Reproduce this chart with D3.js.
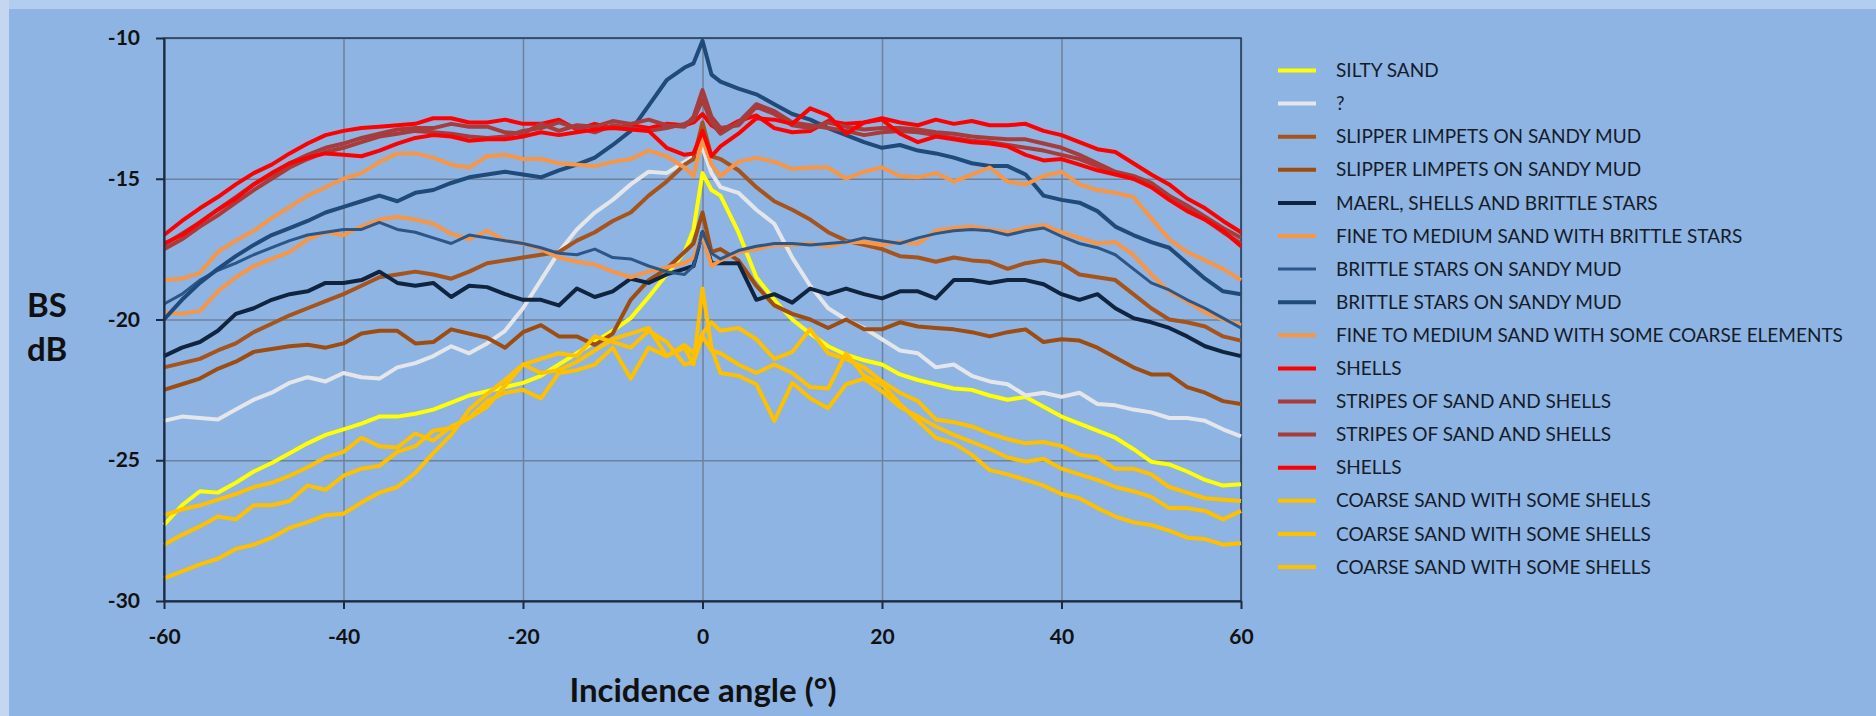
<!DOCTYPE html>
<html>
<head>
<meta charset="utf-8">
<script src="https://cdn.jsdelivr.net/npm/d3@7"></script>
<style>
  html, body { margin: 0; padding: 0; background: #8db4e2; }
  svg { display: block; }
</style>
</head>
<body>
<script>

var width  = 1876;
var height = 716;

// incidence angles (deg)
var angles = [-60,-58,-56,-54,-52,-50,-48,-46,-44,-42,
              -40,-38,-36,-34,-32,-30,-28,-26,-24,-22,
              -20,-18,-16,-14,-12,-10,-8,-6,-4,-2,
              -1,0,1,
              2,4,6,8,10,12,14,16,18,20,
              22,24,26,28,30,32,34,36,38,40,
              42,44,46,48,50,52,54,56,58,60];

var xTicks = [-60, -40, -20, 0, 20, 40, 60];
var yTicks = [-30, -25, -20, -15, -10];

var siltySand = [-27.3,-26.6,-26.1,-26.15,-25.8,-25.4,-25.1,-24.75,-24.4,-24.1,
  -23.9,-23.7,-23.45,-23.45,-23.35,-23.2,-22.95,-22.7,-22.55,-22.4,
  -22.25,-22.0,-21.6,-21.2,-20.8,-20.4,-19.95,-19.2,-18.4,-17.6,
  -16.8,-14.8,-15.4,
  -15.6,-16.9,-18.5,-19.3,-20.0,-20.5,-20.95,-21.25,-21.45,-21.6,
  -21.95,-22.15,-22.3,-22.45,-22.5,-22.7,-22.85,-22.75,-23.1,-23.45,
  -23.7,-23.95,-24.2,-24.6,-25.05,-25.15,-25.4,-25.7,-25.9,-25.85];

var unknown = [-23.6,-23.45,-23.5,-23.55,-23.2,-22.85,-22.6,-22.25,-22.05,-22.2,
  -21.9,-22.05,-22.1,-21.7,-21.55,-21.3,-20.95,-21.2,-20.85,-20.4,
  -19.6,-18.6,-17.6,-16.8,-16.2,-15.75,-15.2,-14.75,-14.8,-14.4,
  -14.2,-13.9,-14.8,
  -15.3,-15.5,-16.1,-16.6,-17.8,-18.8,-19.6,-20.0,-20.3,-20.7,
  -21.1,-21.2,-21.7,-21.6,-22.0,-22.2,-22.3,-22.7,-22.6,-22.75,
  -22.6,-23.0,-23.05,-23.2,-23.3,-23.5,-23.5,-23.6,-23.9,-24.15];

var slipperA = [-21.7,-21.55,-21.4,-21.1,-20.85,-20.45,-20.15,-19.85,-19.6,-19.35,
  -19.1,-18.8,-18.5,-18.4,-18.3,-18.4,-18.55,-18.3,-18.0,-17.9,
  -17.8,-17.7,-17.6,-17.2,-16.9,-16.5,-16.2,-15.6,-15.1,-14.5,
  -14.3,-13.0,-14.2,
  -14.3,-14.7,-15.3,-15.8,-16.1,-16.45,-16.9,-17.2,-17.35,-17.5,
  -17.75,-17.8,-17.95,-17.8,-17.9,-17.95,-18.2,-18.0,-17.9,-18.0,
  -18.4,-18.5,-18.6,-19.1,-19.6,-20.0,-20.1,-20.25,-20.6,-20.75];

var slipperB = [-22.5,-22.3,-22.1,-21.75,-21.5,-21.15,-21.05,-20.95,-20.9,-21.0,
  -20.85,-20.5,-20.4,-20.4,-20.85,-20.8,-20.35,-20.5,-20.65,-21.0,
  -20.45,-20.2,-20.6,-20.6,-20.9,-20.5,-19.3,-18.6,-18.2,-17.6,
  -17.3,-16.2,-17.6,
  -17.5,-17.9,-18.8,-19.5,-19.8,-20.0,-20.3,-20.0,-20.35,-20.35,
  -20.1,-20.25,-20.3,-20.35,-20.45,-20.6,-20.45,-20.35,-20.8,-20.7,
  -20.75,-21.0,-21.35,-21.7,-21.95,-21.95,-22.4,-22.6,-22.9,-23.0];

var maerl = [-21.3,-21.0,-20.8,-20.4,-19.8,-19.6,-19.3,-19.1,-19.0,-18.7,
  -18.7,-18.6,-18.3,-18.7,-18.8,-18.7,-19.2,-18.8,-18.85,-19.1,
  -19.3,-19.3,-19.5,-18.9,-19.2,-19.0,-18.55,-18.7,-18.4,-18.2,
  -18.1,-16.9,-18.0,
  -18.0,-18.0,-19.3,-19.1,-19.4,-18.9,-19.1,-18.9,-19.1,-19.25,
  -19.0,-19.0,-19.25,-18.6,-18.6,-18.7,-18.6,-18.6,-18.75,-19.1,
  -19.3,-19.1,-19.6,-19.95,-20.1,-20.3,-20.6,-20.95,-21.15,-21.3];

var fineBrittle = [-19.75,-19.8,-19.7,-19.0,-18.5,-18.1,-17.85,-17.6,-17.15,-16.9,
  -17.0,-16.7,-16.45,-16.35,-16.45,-16.6,-16.95,-17.15,-16.85,-17.2,
  -17.3,-17.5,-17.8,-17.95,-18.05,-18.3,-18.5,-18.3,-18.15,-18.0,
  -17.8,-17.0,-18.1,
  -17.9,-17.6,-17.5,-17.35,-17.35,-17.3,-17.4,-17.25,-17.25,-17.35,
  -17.25,-17.3,-16.85,-16.75,-16.7,-16.8,-16.9,-16.75,-16.65,-16.9,
  -17.1,-17.3,-17.25,-17.7,-18.4,-19.0,-19.35,-19.75,-20.0,-20.2];

var brittleA = [-19.45,-19.1,-18.6,-18.25,-18.0,-17.7,-17.45,-17.2,-17.0,-16.9,
  -16.8,-16.8,-16.55,-16.8,-16.9,-17.1,-17.3,-17.0,-17.1,-17.2,
  -17.3,-17.45,-17.65,-17.7,-17.5,-17.8,-17.85,-18.1,-18.3,-18.4,
  -18.1,-16.9,-17.65,
  -17.85,-17.55,-17.4,-17.3,-17.3,-17.35,-17.3,-17.25,-17.1,-17.2,
  -17.3,-17.1,-16.95,-16.85,-16.8,-16.85,-17.0,-16.85,-16.75,-17.05,
  -17.3,-17.45,-17.7,-18.2,-18.7,-18.95,-19.3,-19.6,-19.95,-20.3];

var brittleB = [-20.0,-19.3,-18.7,-18.2,-17.75,-17.35,-17.0,-16.75,-16.5,-16.2,
  -16.0,-15.8,-15.6,-15.8,-15.5,-15.4,-15.15,-14.95,-14.85,-14.75,
  -14.85,-14.95,-14.7,-14.5,-14.25,-13.8,-13.3,-12.4,-11.5,-11.05,
  -10.9,-10.1,-11.3,
  -11.55,-11.8,-12.0,-12.35,-12.7,-12.9,-13.2,-13.45,-13.7,-13.9,
  -13.8,-14.0,-14.1,-14.25,-14.45,-14.55,-14.55,-14.85,-15.6,-15.75,
  -15.85,-16.15,-16.7,-17.0,-17.25,-17.45,-18.0,-18.55,-19.0,-19.1];

var fineCoarse = [-18.6,-18.55,-18.35,-17.6,-17.2,-16.85,-16.4,-16.0,-15.6,-15.3,
  -15.0,-14.8,-14.4,-14.1,-14.1,-14.25,-14.5,-14.6,-14.2,-14.15,
  -14.3,-14.3,-14.45,-14.5,-14.55,-14.4,-14.3,-14.0,-14.2,-14.6,
  -14.9,-13.6,-14.5,
  -14.9,-14.4,-14.25,-14.4,-14.65,-14.6,-14.6,-15.0,-14.75,-14.6,
  -14.9,-14.95,-14.8,-15.1,-14.85,-14.6,-15.1,-15.2,-14.9,-14.75,
  -15.2,-15.4,-15.5,-15.65,-16.4,-17.15,-17.6,-17.9,-18.2,-18.6];

var shellsA = [-17.0,-16.5,-16.05,-15.65,-15.2,-14.8,-14.5,-14.1,-13.75,-13.45,
  -13.3,-13.2,-13.15,-13.1,-13.05,-12.85,-12.85,-13.0,-13.0,-12.9,
  -13.05,-13.05,-12.9,-13.25,-13.05,-13.2,-13.1,-13.2,-13.05,-13.1,
  -13.0,-12.7,-13.1,
  -13.3,-12.95,-12.75,-13.2,-13.35,-13.3,-12.95,-13.05,-13.0,-12.85,
  -13.0,-13.1,-12.9,-13.05,-12.95,-13.1,-13.1,-13.05,-13.3,-13.45,
  -13.7,-13.95,-14.05,-14.45,-14.85,-15.2,-15.7,-16.05,-16.5,-16.9];

var stripesA = [-17.35,-16.95,-16.55,-16.1,-15.65,-15.2,-14.85,-14.45,-14.15,-13.9,
  -13.75,-13.55,-13.4,-13.25,-13.2,-13.2,-13.05,-13.15,-13.15,-13.35,
  -13.4,-13.05,-13.3,-13.1,-13.15,-12.95,-13.05,-12.9,-13.1,-13.15,
  -12.8,-11.85,-12.8,
  -13.2,-13.1,-12.45,-12.7,-13.1,-13.2,-13.0,-13.15,-13.25,-13.2,
  -13.2,-13.25,-13.35,-13.4,-13.5,-13.55,-13.6,-13.6,-13.75,-13.9,
  -14.15,-14.45,-14.75,-14.9,-15.15,-15.6,-15.95,-16.35,-16.75,-17.1];

var stripesB = [-17.5,-17.15,-16.7,-16.3,-15.85,-15.4,-15.0,-14.6,-14.3,-14.05,
  -13.9,-13.7,-13.5,-13.4,-13.3,-13.35,-13.4,-13.5,-13.55,-13.5,
  -13.3,-13.2,-13.0,-13.2,-13.35,-13.1,-13.2,-13.3,-13.2,-13.05,
  -12.9,-12.2,-13.0,
  -13.4,-13.0,-12.35,-12.6,-13.0,-13.1,-13.2,-13.3,-13.45,-13.35,
  -13.3,-13.35,-13.45,-13.55,-13.65,-13.7,-13.8,-13.9,-14.0,-14.15,
  -14.3,-14.55,-14.8,-15.0,-15.25,-15.65,-16.05,-16.45,-16.9,-17.3];

var shellsB = [-17.3,-17.0,-16.55,-16.1,-15.7,-15.2,-14.8,-14.45,-14.25,-14.1,
  -14.15,-14.2,-14.0,-13.75,-13.55,-13.45,-13.5,-13.65,-13.6,-13.6,
  -13.5,-13.35,-13.45,-13.35,-13.25,-13.2,-13.25,-13.3,-13.9,-14.15,
  -14.1,-13.3,-14.2,
  -13.85,-13.4,-12.85,-12.9,-13.05,-12.5,-12.75,-13.4,-13.0,-12.9,
  -13.4,-13.7,-13.5,-13.6,-13.7,-13.75,-13.85,-14.15,-14.35,-14.3,
  -14.5,-14.7,-14.85,-15.0,-15.3,-15.75,-16.15,-16.45,-16.85,-17.4];

var coarseA = [-26.95,-26.75,-26.6,-26.4,-26.2,-25.95,-25.8,-25.55,-25.25,-24.9,
  -24.7,-24.2,-24.5,-24.55,-24.05,-24.3,-23.8,-23.5,-23.1,-22.35,
  -21.6,-21.9,-21.8,-21.5,-21.1,-20.7,-20.5,-20.3,-21.3,-20.9,
  -21.2,-20.5,-20.1,
  -20.4,-20.3,-20.7,-21.4,-21.15,-20.35,-21.2,-21.4,-21.7,-22.2,
  -22.6,-22.9,-23.55,-23.65,-23.8,-24.05,-24.25,-24.4,-24.35,-24.5,
  -24.8,-24.9,-25.3,-25.3,-25.5,-25.95,-26.15,-26.35,-26.4,-26.45];

var coarseB = [-28.0,-27.65,-27.35,-27.0,-27.1,-26.6,-26.6,-26.45,-25.9,-26.05,
  -25.55,-25.3,-25.2,-24.7,-24.5,-23.95,-23.85,-23.5,-22.9,-22.6,
  -22.5,-22.8,-21.9,-21.8,-21.6,-21.0,-22.1,-21.0,-21.3,-21.0,
  -21.6,-18.9,-21.0,
  -21.9,-22.0,-22.3,-23.6,-22.25,-22.8,-23.15,-22.3,-22.1,-22.55,
  -23.1,-23.45,-23.8,-24.1,-24.35,-24.6,-24.9,-25.05,-24.95,-25.3,
  -25.5,-25.7,-25.95,-26.1,-26.3,-26.7,-26.7,-26.8,-27.1,-26.8];

var coarseC = [-29.2,-28.95,-28.7,-28.5,-28.15,-28.0,-27.75,-27.4,-27.2,-26.95,
  -26.9,-26.5,-26.15,-25.95,-25.45,-24.75,-24.1,-23.2,-22.65,-22.15,
  -21.6,-21.4,-21.2,-21.3,-20.6,-20.8,-21.0,-20.4,-20.8,-21.6,
  -21.5,-20.6,-21.1,
  -21.2,-21.6,-21.9,-21.6,-21.9,-22.4,-22.45,-21.2,-22.0,-22.3,
  -23.0,-23.6,-24.2,-24.4,-24.8,-25.35,-25.5,-25.7,-25.9,-26.2,
  -26.35,-26.7,-27.0,-27.2,-27.3,-27.5,-27.75,-27.8,-28.0,-27.95];

// legend order = drawing order
var series = [
    { name: 'SILTY SAND',                                    values: siltySand,   color: '#ffff00', w: 4 }
  , { name: '?',                                             values: unknown,     color: '#e4e6ea', w: 4 }
  , { name: 'SLIPPER LIMPETS ON SANDY MUD',                  values: slipperA,    color: '#a6541c', w: 4 }
  , { name: 'SLIPPER LIMPETS ON SANDY MUD',                  values: slipperB,    color: '#9e4d12', w: 4 }
  , { name: 'MAERL, SHELLS AND BRITTLE STARS',               values: maerl,       color: '#10243f', w: 4 }
  , { name: 'FINE TO MEDIUM SAND WITH BRITTLE STARS',        values: fineBrittle, color: '#f79646', w: 4 }
  , { name: 'BRITTLE STARS ON SANDY MUD',                    values: brittleA,    color: '#2c5687', w: 3 }
  , { name: 'BRITTLE STARS ON SANDY MUD',                    values: brittleB,    color: '#1f4a7a', w: 4 }
  , { name: 'FINE TO MEDIUM SAND WITH SOME COARSE ELEMENTS', values: fineCoarse,  color: '#f79646', w: 4 }
  , { name: 'SHELLS',                                        values: shellsA,     color: '#ff0000', w: 4 }
  , { name: 'STRIPES OF SAND AND SHELLS',                    values: stripesA,    color: '#a83b3b', w: 4 }
  , { name: 'STRIPES OF SAND AND SHELLS',                    values: stripesB,    color: '#a83b3b', w: 4 }
  , { name: 'SHELLS',                                        values: shellsB,     color: '#ff0000', w: 4 }
  , { name: 'COARSE SAND WITH SOME SHELLS',                  values: coarseA,     color: '#ffc000', w: 4 }
  , { name: 'COARSE SAND WITH SOME SHELLS',                  values: coarseB,     color: '#ffc000', w: 4 }
  , { name: 'COARSE SAND WITH SOME SHELLS',                  values: coarseC,     color: '#ffc000', w: 4 }
];

var plot = { left: 164, right: 1241, top: 38, bottom: 601 };

var svg = d3.select('body')
            .append('svg')
            .attr('width', width)
            .attr('height', height);

// slide background with light edges
svg.append('rect').attr('width', width).attr('height', height).attr('fill', '#8db4e2');
svg.append('rect').attr('width', width).attr('height', 9).attr('fill', '#b3cdf1');
svg.append('rect').attr('width', 9).attr('height', height).attr('fill', '#c4d6f0');

var x = d3.scaleLinear().domain([-60, 60]).range([plot.left, plot.right]);
var y = d3.scaleLinear().domain([-30, -10]).range([plot.bottom, plot.top]);

var plain = function(d){ return String(d); };   // keep ASCII hyphen like the original

// gridlines
svg.append('g')
   .attr('transform', 'translate(0,' + plot.bottom + ')')
   .call(d3.axisBottom(x).tickValues(xTicks).tickSize(-(plot.bottom - plot.top)).tickFormat(''))
   .call(function(g){ g.select('.domain').remove(); })
   .selectAll('line').attr('stroke', '#6f819a').attr('stroke-width', 1.5);

svg.append('g')
   .attr('transform', 'translate(' + plot.left + ',0)')
   .call(d3.axisLeft(y).tickValues(yTicks).tickSize(-(plot.right - plot.left)).tickFormat(''))
   .call(function(g){ g.select('.domain').remove(); })
   .selectAll('line').attr('stroke', '#6f819a').attr('stroke-width', 1.5);

// frame
svg.append('rect')
   .attr('x', plot.left).attr('y', plot.top)
   .attr('width', plot.right - plot.left).attr('height', plot.bottom - plot.top)
   .attr('fill', 'none').attr('stroke', '#22385a').attr('stroke-width', 1.5);

// series
var line = d3.line()
             .x(function(d, i){ return x(angles[i]); })
             .y(function(d){ return y(d); });

svg.append('g')
   .selectAll('path')
   .data(series)
   .enter()
   .append('path')
   .attr('d', function(s){ return line(s.values); })
   .attr('fill', 'none')
   .attr('stroke', function(s){ return s.color; })
   .attr('stroke-width', function(s){ return s.w; })
   .attr('stroke-linejoin', 'round');

// axes
var xAxis = svg.append('g')
   .attr('transform', 'translate(0,' + plot.bottom + ')')
   .call(d3.axisBottom(x).tickValues(xTicks).tickFormat(plain).tickSizeInner(8).tickSizeOuter(0).tickPadding(20));

var yAxis = svg.append('g')
   .attr('transform', 'translate(' + plot.left + ',0)')
   .call(d3.axisLeft(y).tickValues(yTicks).tickFormat(plain).tickSizeInner(8).tickSizeOuter(0).tickPadding(16));

[xAxis, yAxis].forEach(function(g){
  g.select('.domain').attr('stroke', '#1c2a40').attr('stroke-width', 2);
  g.selectAll('.tick line').attr('stroke', '#1c2a40').attr('stroke-width', 2);
  g.selectAll('.tick text')
   .attr('font-family', 'Lato, "Open Sans", sans-serif')
   .attr('font-weight', 'bold')
   .attr('font-size', '21px')
   .attr('fill', '#111');
});

// axis titles
svg.append('text')
   .text('Incidence angle (°)')
   .attr('x', 703).attr('y', 702)
   .attr('text-anchor', 'middle')
   .attr('font-family', 'Lato, "Open Sans", sans-serif')
   .attr('font-weight', 'bold')
   .attr('font-size', '33px')
   .attr('fill', '#111');

svg.append('text')
   .attr('font-family', 'Lato, "Open Sans", sans-serif')
   .attr('font-weight', 'bold')
   .attr('font-size', '33px')
   .attr('fill', '#111')
   .selectAll('tspan')
   .data(['BS', 'dB'])
   .enter()
   .append('tspan')
   .attr('x', 27)
   .attr('y', function(d, i){ return 317 + i * 44; })
   .text(function(d){ return d; });

// legend
var legend = svg.append('g')
   .selectAll('g')
   .data(series)
   .enter()
   .append('g')
   .attr('transform', function(d, i){ return 'translate(1278,' + (70.5 + i * 33.1) + ')'; });

legend.append('line')
      .attr('x1', 0).attr('x2', 38)
      .attr('stroke', function(s){ return s.color; })
      .attr('stroke-width', function(s){ return s.w; });

legend.append('text')
      .text(function(s){ return s.name; })
      .attr('x', 58).attr('dy', '0.35em')
      .attr('font-family', 'Lato, "Open Sans", sans-serif')
      .attr('font-size', '19px')
      .attr('fill', '#161c2a');

</script>
</body>
</html>
